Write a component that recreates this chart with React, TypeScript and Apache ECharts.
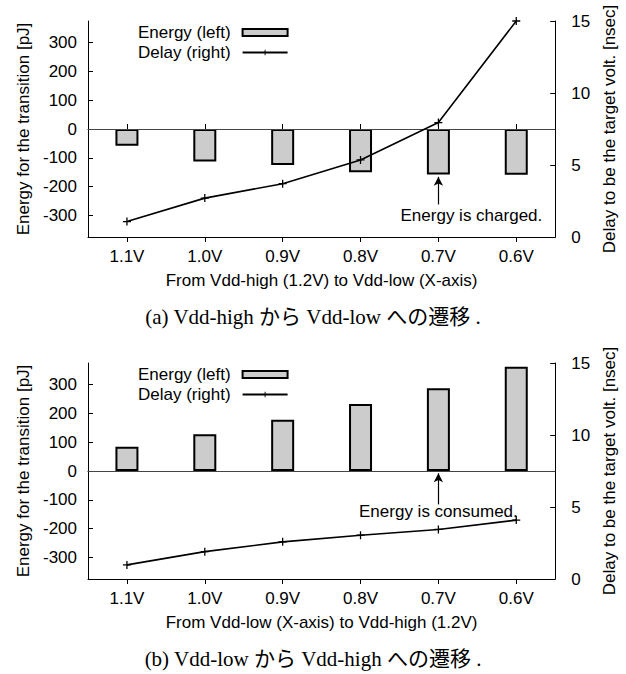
import React, { useEffect, useRef } from "react";
import * as echarts from "echarts";

// ---- data ----
const categories = ["1.1V", "1.0V", "0.9V", "0.8V", "0.7V", "0.6V"];
// (a) Vdd-high -> Vdd-low
const energyDown = [-58, -113, -125, -150, -158, -159];
const delayDown = [1.07, 2.7, 3.7, 5.35, 7.95, 15.0];
// (b) Vdd-low -> Vdd-high
const energyUp = [84, 128, 178, 233, 287, 362];
const delayUp = [0.98, 1.9, 2.58, 3.04, 3.44, 4.09];

const energyTicks = [-300, -200, -100, 0, 100, 200, 300];
const delayTicks = [0, 5, 10, 15];

const seriesNames = ["Energy (left)", "Delay (right)"];
const leftTitle = "Energy for the transition [pJ]";
const rightTitle = "Delay to be the target volt. [nsec]";
const xTitles = [
  "From Vdd-high (1.2V) to Vdd-low (X-axis)",
  "From Vdd-low (X-axis) to Vdd-high (1.2V)",
];
const captions = [
  "(a) Vdd-high から Vdd-low への遷移 .",
  "(b) Vdd-low から Vdd-high への遷移 .",
];
const notes = ["Energy is charged.", "Energy is consumed."];
// annotation anchors (arrow tail, arrow head, text level) in left-axis units
const noteCategory = "0.7V";
const noteArrows = [
  [-262, -166, -302],
  [-116, -8, -141],
];
const noteOffsets = [33, 0];

const SANS = "'Liberation Sans', Arial, Helvetica, sans-serif";
const SERIF = "'Liberation Serif', 'Noto Sans CJK JP', serif";
const PLUS = "path://M0,4.2H10V5.8H0ZM4.2,0H5.8V10H4.2Z";

const GRID_LEFT = 88;
const GRID_W = 471;
const GRID_H = 216;
const GRID_TOPS = [21, 363];

export default function App() {
  const ref = useRef<HTMLDivElement>(null);

  useEffect(() => {
    document.body.style.margin = "0";
    if (!ref.current) return;
    const chart = echarts.init(ref.current, undefined, { renderer: "svg" });

    const axisLine = { show: true, lineStyle: { color: "#000", width: 1 } };
    const tick = { show: true, inside: true, length: 5, lineStyle: { color: "#000", width: 1 } };
    const label = { color: "#000", fontSize: 17, fontFamily: SANS };
    const nameStyle = { color: "#000", fontSize: 17, fontFamily: SANS };

    const grids: any[] = [];
    const xAxes: any[] = [];
    const yAxes: any[] = [];
    const series: any[] = [];
    const legends: any[] = [];
    const energies = [energyDown, energyUp];
    const delays = [delayDown, delayUp];

    [0, 1].forEach((i) => {
      grids.push({ left: GRID_LEFT, top: GRID_TOPS[i], width: GRID_W, height: GRID_H, containLabel: false });
      xAxes.push({
        type: "category",
        gridIndex: i,
        data: categories,
        position: "bottom",
        axisLine,
        axisTick: { ...tick, alignWithLabel: true },
        axisLabel: { ...label, margin: 11 },
        splitLine: { show: false },
        name: xTitles[i],
        nameLocation: "middle",
        nameGap: 35,
        nameTextStyle: nameStyle,
      });
      xAxes.push({
        type: "category",
        gridIndex: i,
        data: categories,
        position: "top",
        axisLine,
        axisTick: { ...tick, alignWithLabel: true },
        axisLabel: { show: false },
        splitLine: { show: false },
      });
      yAxes.push({
        type: "value",
        gridIndex: i,
        position: "left",
        min: -375,
        max: 375,
        axisLine,
        axisTick: { ...tick, customValues: energyTicks },
        axisLabel: { ...label, margin: 11, customValues: energyTicks },
        splitLine: { show: false },
        name: leftTitle,
        nameLocation: "middle",
        nameGap: 51,
        nameTextStyle: nameStyle,
      });
      yAxes.push({
        type: "value",
        gridIndex: i,
        position: "right",
        min: 0,
        max: 15,
        interval: 5,
        axisLine,
        axisTick: { ...tick, customValues: delayTicks },
        axisLabel: { ...label, margin: 16, customValues: delayTicks },
        splitLine: { show: false },
        name: rightTitle,
        nameLocation: "middle",
        nameGap: 40,
        nameTextStyle: nameStyle,
      });
      const [tail, head] = noteArrows[i];
      series.push({
        name: seriesNames[0],
        type: "bar",
        xAxisIndex: 2 * i,
        yAxisIndex: 2 * i,
        data: energies[i],
        barWidth: 23,
        itemStyle: { color: "#cccccc", borderColor: "#000", borderWidth: 2 },
        markLine: {
          silent: true,
          symbol: "none",
          label: { show: false },
          data: [
            { yAxis: 0, lineStyle: { color: "#444", width: 1, type: "solid" } },
            [
              { coord: [noteCategory, tail], symbol: "none" },
              { coord: [noteCategory, head], symbol: "arrow", symbolSize: [7, 9] },
            ],
          ],
          lineStyle: { color: "#000", width: 1.2, type: "solid" },
        },
      });
      series.push({
        name: seriesNames[1],
        type: "line",
        xAxisIndex: 2 * i,
        yAxisIndex: 2 * i + 1,
        data: delays[i],
        symbol: PLUS,
        symbolSize: 8,
        showAllSymbol: true,
        lineStyle: { color: "#000", width: 1.6 },
        itemStyle: { color: "#000" },
        z: 5,
      });
      legends.push({
        data: [{ name: seriesNames[0], icon: "rect" }, { name: seriesNames[1] }],
        orient: "vertical",
        left: 138,
        top: GRID_TOPS[i] + 3,
        align: "right",
        itemWidth: 45,
        itemHeight: 7,
        itemGap: 3,
        padding: 0,
        selectedMode: false,
        textStyle: { color: "#000", fontSize: 17, fontFamily: SANS, lineHeight: 17, padding: [0, 7, 0, 0] },
      });
    });

    chart.setOption({
      animation: false,
      backgroundColor: "#fff",
      grid: grids,
      xAxis: xAxes,
      yAxis: yAxes,
      legend: legends,
      series,
    });

    const graphics: any[] = [];
    [0, 1].forEach((i) => {
      const p = chart.convertToPixel({ xAxisIndex: 2 * i, yAxisIndex: 2 * i }, [noteCategory, noteArrows[i][2]]) as number[];
      graphics.push({
        type: "text",
        x: p[0] + noteOffsets[i],
        y: p[1],
        style: { text: notes[i], fontSize: 17, fontFamily: SANS, fill: "#000", align: "center", verticalAlign: "middle" },
        z: 10,
      });
      const capY = (chart.convertToPixel({ yAxisIndex: 2 * i }, -375) as number) + 80;
      graphics.push({
        type: "text",
        x: 313,
        y: capY,
        style: { text: captions[i], fontSize: 21, fontFamily: SERIF, fill: "#000", align: "center", verticalAlign: "middle" },
      });
    });
    chart.setOption({ graphic: graphics });

    return () => chart.dispose();
  }, []);

  return <div ref={ref} style={{ position: "absolute", left: 0, top: 0, width: 626, height: 674 }} />;
}
